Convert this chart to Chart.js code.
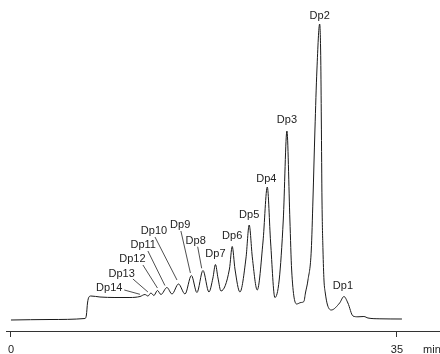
<!DOCTYPE html>
<html>
<head>
<meta charset="utf-8">
<script src="https://cdn.jsdelivr.net/npm/chart.js@4.4.0/dist/chart.umd.min.js"></script>
<style>
  html, body { margin: 0; padding: 0; background: #fff; overflow: hidden; }
</style>
</head>
<body>
<canvas id="chromChart" width="440" height="354"></canvas>
<script>
// Retention time (min) and detector signal
const sigTime = [
  0.00, 3.54, 6.71, 6.84, 6.94, 7.07, 7.25, 8.07, 9.43, 10.79, 11.70,
  12.15, 12.42, 12.69, 12.96, 13.28, 13.60, 14.14, 14.60, 15.19, 15.78,
  16.36, 16.86, 17.41, 17.95,
  18.31, 18.54, 18.77, 19.04,
  19.81, 20.06, 20.31, 20.76,
  21.31, 21.60, 21.89, 22.33,
  22.85, 23.24, 23.54, 23.93,
  24.32, 24.69, 25.02, 25.29, 25.45, 25.90, 26.29, 26.56,
  26.70, 26.93, 27.23, 27.38, 27.56, 27.74, 27.99, 28.09, 28.14, 28.20,
  28.29, 28.38, 28.50, 28.70, 29.04,
  29.80, 30.19, 30.55, 31.01, 31.46, 32.00, 32.37, 33.45, 35.45
];
const sigValue = [
  0, 0.5, 1.5, 5, 17, 23, 24, 23, 22.5, 22.5, 23.5,
  25.5, 24, 27, 24.5, 29.5, 25.5, 32.5, 26, 36, 26,
  44.5, 27.5, 49.5, 28,
  42, 55.5, 42, 29,
  51, 73.5, 51, 28,
  62, 95, 62, 30,
  78, 133, 78, 22.5,
  40, 100, 189, 100, 50, 16, 17.5, 18.5,
  27, 40, 70, 120, 190, 250, 296, 260, 200, 120,
  70, 40, 27, 15, 10,
  17, 23.5, 17, 4, 3.2, 3.5, 2, 1.2, 1
];

// Peak labels
const peakNames = ['Dp1', 'Dp2', 'Dp3', 'Dp4', 'Dp5', 'Dp6', 'Dp7',
                   'Dp8', 'Dp9', 'Dp10', 'Dp11', 'Dp12', 'Dp13', 'Dp14'];
const peakTimes = [30.19, 27.99, 25.02, 23.24, 21.60, 20.06, 18.54,
                   17.41, 16.36, 15.19, 14.14, 13.28, 12.69, 12.15];
const peakValues = [23.5, 296, 189, 133, 95, 73.5, 55.5,
                    49.5, 44.5, 36, 32.5, 29.5, 27, 25.5];

const xTicks = [0, 35];
const xUnit = 'min';

// label baseline offset from the apex (px), then leader line start / end offsets
const labelPlace = [
  [-1, -7.5], [0, -5], [0, -8], [-1, -5.5], [0, -7.5], [0, -8], [0, -7.5],
  [-7.3, -27, -5.3, -23.8, -1.3, -2.2],
  [-11.2, -47.8, -10.5, -44.5, -1, -2.5],
  [-24.5, -49.7, -23.5, -47, -1.5, -4],
  [-23.7, -39.8, -19, -36.5, -2, -2],
  [-25, -28.8, -14.5, -25.5, 0, -2.5],
  [-29.3, -15.7, -18, -14, -3, -1],
  [-35.7, -3.8, -20.7, -4.5, -5, -0.2]
];
const unitPos = 38.17;
const fontFamily = '"Liberation Sans", Arial, sans-serif';
const tickLen = 6;
const tickPad = 6;

const peakLabels = {
  id: 'peakLabels',
  afterDatasetsDraw(chart) {
    const { ctx, scales: { x, y } } = chart;
    ctx.save();
    ctx.font = '11px ' + fontFamily;
    ctx.fillStyle = '#222';
    ctx.strokeStyle = '#222';
    ctx.lineWidth = 0.8;
    ctx.textAlign = 'center';
    ctx.textBaseline = 'alphabetic';
    peakNames.forEach((name, i) => {
      const px = x.getPixelForValue(peakTimes[i]);
      const py = y.getPixelForValue(peakValues[i]);
      const p = labelPlace[i];
      ctx.fillText(name, px + p[0], py + p[1]);
      if (p.length > 2) {
        ctx.beginPath();
        ctx.moveTo(px + p[2], py + p[3]);
        ctx.lineTo(px + p[4], py + p[5]);
        ctx.stroke();
      }
    });
    // unit next to the last tick, same row as the tick labels
    ctx.textBaseline = 'middle';
    ctx.fillText(xUnit, x.getPixelForValue(unitPos), x.top + tickLen + tickPad + 6.6);
    ctx.restore();
  }
};

const ctx = document.getElementById('chromChart').getContext('2d');
new Chart(ctx, {
  type: 'line',
  data: {
    datasets: [{
      data: sigTime.map((t, i) => ({ x: t, y: sigValue[i] })),
      borderColor: '#1a1a1a',
      borderWidth: 1,
      pointRadius: 0,
      fill: false,
      cubicInterpolationMode: 'monotone'
    }]
  },
  options: {
    responsive: false,
    animation: false,
    devicePixelRatio: 1,
    layout: { padding: { left: 6, right: 0, top: 0, bottom: 0 } },
    plugins: {
      legend: { display: false },
      tooltip: { enabled: false }
    },
    scales: {
      x: {
        type: 'linear',
        min: -0.45,
        max: 38.9,
        afterBuildTicks: (axis) => {
          axis.ticks = xTicks.map(v => ({ value: v }));
        },
        afterFit: (axis) => { axis.height = 23; },
        ticks: {
          autoSkip: false,
          maxRotation: 0,
          padding: tickPad,
          color: '#222',
          font: { family: fontFamily, size: 11 }
        },
        grid: {
          drawOnChartArea: false,
          drawTicks: true,
          tickLength: tickLen,
          tickColor: '#333'
        },
        border: { display: true, color: '#333', width: 1 }
      },
      y: { display: false, min: -11, max: 320 }
    }
  },
  plugins: [peakLabels]
});
</script>
</body>
</html>
